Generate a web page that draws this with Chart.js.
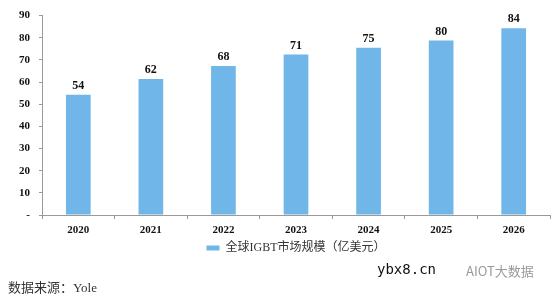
<!DOCTYPE html>
<html>
<head>
<meta charset="utf-8">
<script src="https://cdn.jsdelivr.net/npm/chart.js@4/dist/chart.umd.min.js"></script>
<style>
  html, body { margin: 0; padding: 0; background: #fff; }
  #wrap { position: relative; width: 554px; height: 299px; }
  #chart { position: absolute; left: 0; top: 0; }
  .note { position: absolute; white-space: nowrap; }
</style>
</head>
<body>
<div id="wrap">
  <canvas id="chart" width="554" height="299"></canvas>
  <div class="note" style="left:8px; top:277px; font:13px 'Liberation Serif','Noto Sans CJK SC',serif; color:#333;">数据来源：Yole</div>
  <div class="note" style="left:377px; top:261px; font:14px 'DejaVu Sans Mono',monospace; color:#111;">ybx8.cn</div>
  <div class="note" style="left:466px; top:261px; font:13px 'Noto Sans CJK SC',sans-serif; color:#999;">AIOT大数据</div>
</div>
<script>
// data
const years = ['2020', '2021', '2022', '2023', '2024', '2025', '2026'];
const marketSize = [54.3, 61.4, 67.2, 72.4, 75.5, 78.8, 84.3];   // bar heights
const sizeLabels = ['54', '62', '68', '71', '75', '80', '84'];   // printed values
const yTicks = [0, 10, 20, 30, 40, 50, 60, 70, 80, 90];
const seriesName = '全球IGBT市场规模（亿美元）';

const barColor = '#70b6e8';
const axisColor = '#9a9a9a';
const serif = "'Liberation Serif', 'Times New Roman', serif";

// value labels above each bar
const valueLabels = {
  id: 'valueLabels',
  afterDatasetsDraw(chart) {
    const ctx = chart.ctx;
    const meta = chart.getDatasetMeta(0);
    ctx.save();
    ctx.font = 'bold 12px ' + serif;
    ctx.fillStyle = '#111';
    ctx.textAlign = 'center';
    ctx.textBaseline = 'bottom';
    meta.data.forEach((bar, i) => {
      ctx.fillText(sizeLabels[i], bar.x, bar.y - 3);
    });
    ctx.restore();
  }
};

new Chart(document.getElementById('chart'), {
  type: 'bar',
  data: {
    labels: years,
    datasets: [{
      label: seriesName,
      data: marketSize,
      backgroundColor: barColor,
      barPercentage: 0.34,
      categoryPercentage: 1
    }]
  },
  options: {
    responsive: false,
    animation: false,
    layout: { padding: { top: 14, right: 4, left: 0, bottom: 35 } },
    plugins: {
      legend: {
        position: 'bottom',
        fullSize: false,
        labels: {
          boxWidth: 13,
          boxHeight: 5,
          padding: 5,
          color: '#333',
          font: { family: serif + ", 'Noto Sans CJK SC'", size: 12 }
        }
      },
      tooltip: { enabled: false }
    },
    scales: {
      x: {
        grid: { drawOnChartArea: false, tickLength: 4, color: axisColor },
        border: { color: axisColor },
        ticks: { color: '#111', padding: 5, font: { family: serif, size: 11, weight: 'bold' } },
        afterFit(scale) { scale.height = 22; }
      },
      y: {
        min: 0,
        max: 90,
        afterBuildTicks(scale) { scale.ticks = yTicks.map(v => ({ value: v })); },
        grid: { drawOnChartArea: false, tickLength: 3, color: axisColor },
        border: { color: axisColor },
        ticks: {
          color: '#111',
          padding: 9,
          font: { family: serif, size: 11, weight: 'bold' },
          callback: v => (v === 0 ? '-' : v)
        },
        afterFit(scale) { scale.width = 42; }
      }
    }
  },
  plugins: [valueLabels]
});
</script>
</body>
</html>
